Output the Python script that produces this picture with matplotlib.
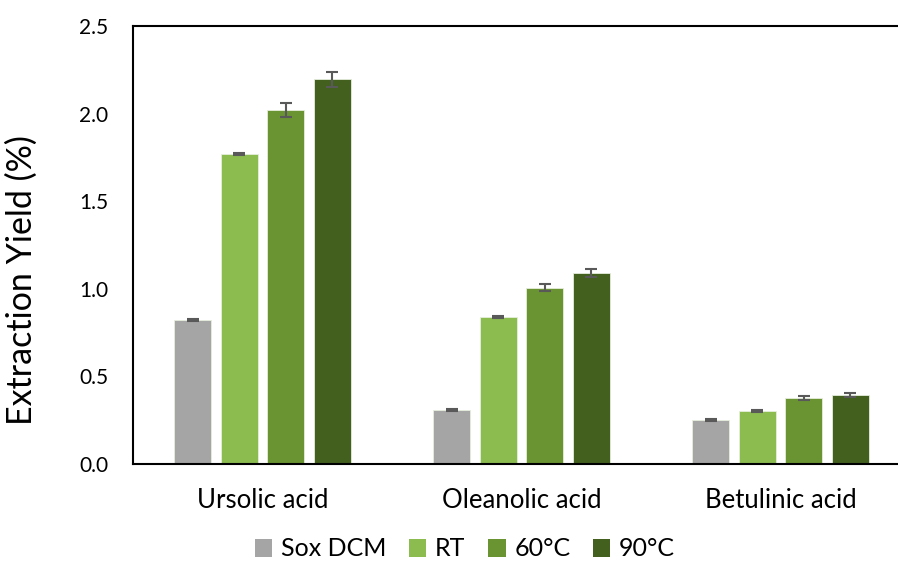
import numpy as np
from matplotlib import pyplot as plt
from matplotlib.patches import Patch

plt.rcParams['font.family'] = ['Lato', 'DejaVu Sans']

acids = ["Ursolic acid", "Oleanolic acid", "Betulinic acid"]
methods = ["Sox DCM", "RT", "60°C", "90°C"]
colors = ["#A5A5A5", "#8CBB50", "#6A9331", "#43601F"]

sox_dcm = [0.82, 0.31, 0.25]
rt = [1.77, 0.84, 0.30]
t60 = [2.02, 1.005, 0.375]
t90 = [2.195, 1.09, 0.395]

sox_err = [0.005, 0.006, 0.006]
rt_err = [0.005, 0.005, 0.006]
t60_err = [0.042, 0.02, 0.012]
t90_err = [0.045, 0.022, 0.012]

values = [sox_dcm, rt, t60, t90]
errors = [sox_err, rt_err, t60_err, t90_err]

fig = plt.figure(figsize=(8.98, 5.61), dpi=100)
# box runs a little past the right edge of the figure
ax = fig.add_axes([133 / 898, 1 - 464 / 561, 777 / 898, 438 / 561])

x = np.arange(len(acids))
step = 0.179
width = 0.143
for i, (vals, errs) in enumerate(zip(values, errors)):
    pos = x + (i - 1.5) * step
    ax.bar(pos, vals, width, color=colors[i], edgecolor="#E6EEDC",
           linewidth=0.6, zorder=2)
    ax.errorbar(pos, vals, yerr=errs, fmt="none", ecolor="#595959",
                elinewidth=1.5, capsize=4.5, capthick=1.5, zorder=3)

ax.set_xlim(-0.5, 2.5)
ax.set_ylim(0, 2.5)
ax.set_yticks([0, 0.5, 1.0, 1.5, 2.0, 2.5])
ax.set_yticklabels(["0.0", "0.5", "1.0", "1.5", "2.0", "2.5"])
ax.set_xticks(x)
ax.set_xticklabels(acids)
ax.tick_params(axis="y", length=0, labelsize=15, pad=18)
ax.tick_params(axis="x", length=0, labelsize=18.5, pad=17)
for s in ax.spines.values():
    s.set_color("black")
    s.set_linewidth(1.5)

ax.set_ylabel("Extraction Yield (%)", fontsize=24.5)
ax.yaxis.set_label_coords(-95 / 777, 0.42)

handles = [Patch(facecolor=c, edgecolor="none") for c in colors]
fig.legend(handles, methods, loc="center", bbox_to_anchor=(465 / 898, 1 - 549 / 561),
           ncol=4, frameon=False, fontsize=18, handlelength=0.7, handleheight=0.7,
           handletextpad=0.35, columnspacing=0.9)

fig.savefig("out.png", dpi=100)
